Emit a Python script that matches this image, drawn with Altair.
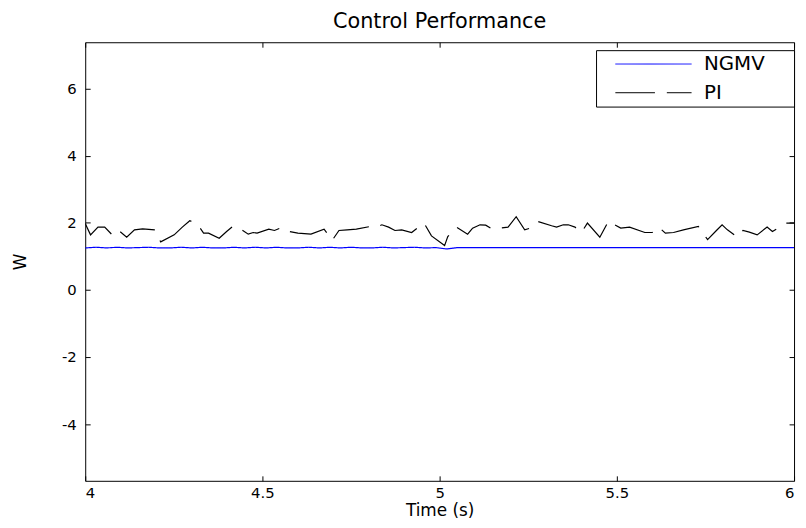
import altair as alt
import pandas as pd

# ---------------- data ----------------
series_names = ["NGMV", "PI"]
series_colors = ["#0000ff", "#000000"]

pi_t = [4.000, 4.015, 4.036, 4.055, 4.076, 4.092, 4.117, 4.139, 4.162, 4.197,
        4.213, 4.251, 4.274, 4.295, 4.316, 4.334, 4.348, 4.378, 4.399, 4.418,
        4.439, 4.460, 4.474, 4.485, 4.518, 4.534, 4.555, 4.576, 4.600, 4.637,
        4.674, 4.697, 4.716, 4.739, 4.765, 4.804, 4.818, 4.837, 4.856, 4.874,
        4.893, 4.921, 4.956, 4.977, 5.014, 5.023, 5.047, 5.079, 5.093, 5.114,
        5.130, 5.149, 5.193, 5.216, 5.240, 5.256, 5.277, 5.316, 5.330, 5.349,
        5.363, 5.382, 5.400, 5.417, 5.452, 5.477, 5.494, 5.511, 5.536, 5.579,
        5.600, 5.618, 5.637, 5.660, 5.688, 5.730, 5.756, 5.781, 5.797, 5.812,
        5.840, 5.856, 5.874, 5.896, 5.924, 5.939, 5.977, 6.000]
pi_v = [1.98, 1.64, 1.87, 1.87, 1.64, 1.79, 1.57, 1.79, 1.82, 1.79,
        1.43, 1.64, 1.87, 2.06, 1.97, 1.69, 1.69, 1.54, 1.74, 1.91,
        1.81, 1.66, 1.71, 1.69, 1.81, 1.77, 1.86, 1.74, 1.69, 1.66,
        1.81, 1.48, 1.77, 1.79, 1.81, 1.89, 1.86, 1.94, 1.87, 1.77,
        1.79, 1.71, 1.99, 1.61, 1.32, 1.59, 1.87, 1.66, 1.84, 1.94,
        1.93, 1.81, 1.87, 2.18, 1.79, 1.84, 2.04, 1.91, 1.87, 1.94,
        1.94, 1.87, 1.71, 1.99, 1.57, 2.06, 1.94, 1.84, 1.87, 1.71,
        1.71, 1.87, 1.69, 1.71, 1.79, 1.89, 1.50, 1.77, 1.94, 1.79,
        1.57, 1.77, 1.72, 1.64, 1.87, 1.74, 1.99, 1.99]

ngmv_t = [4.00, 4.03, 4.06, 4.09, 4.12, 4.15, 4.18, 4.21, 4.24, 4.27,
          4.30, 4.33, 4.36, 4.39, 4.42, 4.45, 4.48, 4.51, 4.54, 4.57,
          4.60, 4.63, 4.66, 4.69, 4.72, 4.75, 4.78, 4.81, 4.84, 4.87,
          4.90, 4.93, 4.96, 4.99, 5.02, 5.05, 5.50, 6.00]
ngmv_v = [1.25, 1.27, 1.25, 1.27, 1.25, 1.26, 1.27, 1.25, 1.25, 1.27,
          1.25, 1.27, 1.25, 1.25, 1.27, 1.25, 1.27, 1.25, 1.27, 1.25,
          1.25, 1.27, 1.25, 1.27, 1.25, 1.27, 1.25, 1.25, 1.27, 1.25,
          1.26, 1.27, 1.25, 1.26, 1.22, 1.26, 1.26, 1.26]

x_ticks = [4, 4.5, 5, 5.5, 6]
y_ticks = [-4, -2, 0, 2, 4, 6]
x_domain = [4, 6]
y_domain = [-5.69, 7.38]

df = pd.concat([
    pd.DataFrame({"t": ngmv_t, "v": ngmv_v, "s": "NGMV"}),
    pd.DataFrame({"t": pi_t, "v": pi_v, "s": "PI"}),
], ignore_index=True)

# ---------------- style ----------------
W, H = 716, 443
FONT = "DejaVu Sans"
LABEL_SIZE = 15
AXTITLE_SIZE = 17
TITLE_SIZE = 21


def xs():
    return alt.Scale(domain=x_domain, nice=False, zero=False)


def ys():
    return alt.Scale(domain=y_domain, nice=False, zero=False)


def tick_axis(orient, offset, values):
    return alt.Axis(orient=orient, offset=offset, values=values, labels=False,
                    ticks=True, tickSize=5, tickColor="black", tickWidth=1,
                    domain=False, grid=False, title=None)


PAD = "\u00a0" * 4 + "\u200b"
legend = alt.Legend(
    title=None, orient="none", legendX=516, legendY=8, direction="vertical",
    symbolType="stroke", symbolSize=5929, symbolStrokeWidth=1,
    clipHeight=20, rowPadding=9, padding=4, symbolOffset=15, labelOffset=12,
    labelFont=FONT, labelFontSize=20, labelColor="black", labelLimit=0,
    labelExpr="datum.label + '" + PAD + "'",
    strokeColor="black", fillColor="white", cornerRadius=0,
)

lines = alt.Chart(df).mark_line(strokeWidth=1.2, clip=True).encode(
    x=alt.X("t:Q", scale=xs(), axis=alt.Axis(
        values=x_ticks, labelExpr="'' + datum.value", ticks=False, domain=False,
        grid=False, labelPadding=5, labelFont=FONT, labelFontSize=LABEL_SIZE,
        labelColor="black", title="Time (s)", titleY=35,
        titleBaseline="alphabetic", titleFont=FONT, titleFontSize=AXTITLE_SIZE,
        titleFontWeight="normal", titleColor="black")),
    y=alt.Y("v:Q", scale=ys(), axis=alt.Axis(
        values=y_ticks, labelExpr="'' + datum.value", ticks=False, domain=False,
        grid=False, labelPadding=9, labelFont=FONT, labelFontSize=LABEL_SIZE,
        labelColor="black", title="W", titleX=-65, titleY=H / 2,
        titleBaseline="middle", titleAlign="center", titleFont=FONT,
        titleFontSize=AXTITLE_SIZE, titleFontWeight="normal", titleColor="black")),
    color=alt.Color("s:N", scale=alt.Scale(domain=series_names, range=series_colors),
                    legend=legend),
    strokeDash=alt.StrokeDash("s:N", scale=alt.Scale(domain=series_names,
                                                     range=[[1, 0], [40, 12]]),
                              legend=legend),
)

ticks_bl = alt.Chart(df).mark_line(opacity=0).encode(
    x=alt.X("t:Q", scale=xs(), axis=tick_axis("top", -H, x_ticks)),
    y=alt.Y("v:Q", scale=ys(), axis=tick_axis("right", -W, y_ticks)),
)

ticks_tr = alt.Chart(df).mark_line(opacity=0).encode(
    x=alt.X("t:Q", scale=xs(), axis=tick_axis("bottom", -H, x_ticks)),
    y=alt.Y("v:Q", scale=ys(), axis=tick_axis("left", -W, y_ticks)),
)

chart = alt.layer(lines, ticks_bl, ticks_tr).resolve_scale(
    x="independent", y="independent"
).properties(
    width=W, height=H,
    background="white",
    title=alt.Title("Control Performance", font=FONT, fontSize=TITLE_SIZE,
                    fontWeight="normal", color="black", offset=10, anchor="middle"),
    autosize=alt.AutoSizeParams(type="none"),
    padding={"left": 78, "top": 32, "right": 4, "bottom": 37},
).configure_view(
    stroke="black", strokeWidth=1
)

chart.save("out.html", embed_options={"renderer": "svg", "actions": False})
